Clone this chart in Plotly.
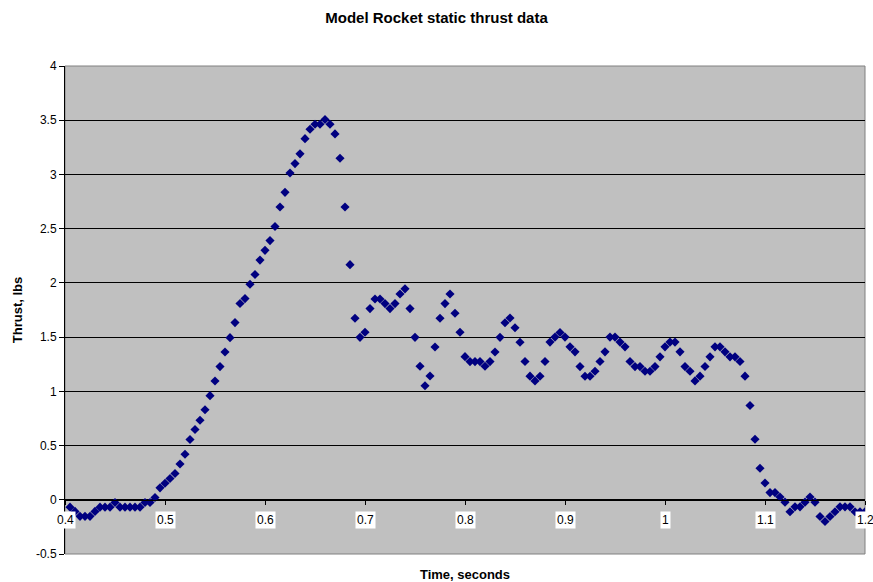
import plotly.graph_objects as go

time_s = [
    0.405, 0.410, 0.415, 0.420, 0.425, 0.430, 0.435, 0.440, 0.445, 0.450,
    0.455, 0.460, 0.465, 0.470, 0.475, 0.480, 0.485, 0.490, 0.495, 0.500,
    0.505, 0.510, 0.515, 0.520, 0.525, 0.530, 0.535, 0.540, 0.545, 0.550,
    0.555, 0.560, 0.565, 0.570, 0.575, 0.580, 0.585, 0.590, 0.595, 0.600,
    0.605, 0.610, 0.615, 0.620, 0.625, 0.630, 0.635, 0.640, 0.645, 0.650,
    0.655, 0.660, 0.665, 0.670, 0.675, 0.680, 0.685, 0.690, 0.695, 0.700,
    0.705, 0.710, 0.715, 0.720, 0.725, 0.730, 0.735, 0.740, 0.745, 0.750,
    0.755, 0.760, 0.765, 0.770, 0.775, 0.780, 0.785, 0.790, 0.795, 0.800,
    0.805, 0.810, 0.815, 0.820, 0.825, 0.830, 0.835, 0.840, 0.845, 0.850,
    0.855, 0.860, 0.865, 0.870, 0.875, 0.880, 0.885, 0.890, 0.895, 0.900,
    0.905, 0.910, 0.915, 0.920, 0.925, 0.930, 0.935, 0.940, 0.945, 0.950,
    0.955, 0.960, 0.965, 0.970, 0.975, 0.980, 0.985, 0.990, 0.995, 1.000,
    1.005, 1.010, 1.015, 1.020, 1.025, 1.030, 1.035, 1.040, 1.045, 1.050,
    1.055, 1.060, 1.065, 1.070, 1.075, 1.080, 1.085, 1.090, 1.095, 1.100,
    1.105, 1.110, 1.115, 1.120, 1.125, 1.130, 1.135, 1.140, 1.145, 1.150,
    1.155, 1.160, 1.165, 1.170, 1.175, 1.180, 1.185, 1.190, 1.195, 1.200,
]

thrust_lbs = [
    -0.068, -0.107, -0.153, -0.153, -0.153, -0.107, -0.068, -0.068, -0.068, -0.025,
    -0.068, -0.068, -0.068, -0.068, -0.068, -0.025, -0.025, 0.021, 0.110, 0.153,
    0.196, 0.242, 0.330, 0.420, 0.556, 0.648, 0.734, 0.830, 0.960, 1.095,
    1.228, 1.363, 1.495, 1.634, 1.810, 1.855, 1.988, 2.077, 2.210, 2.300,
    2.390, 2.520, 2.700, 2.835, 3.014, 3.100, 3.190, 3.330, 3.417, 3.463,
    3.463, 3.506, 3.463, 3.374, 3.149, 2.700, 2.168, 1.674, 1.498, 1.545,
    1.763, 1.852, 1.852, 1.809, 1.763, 1.809, 1.898, 1.945, 1.763, 1.498,
    1.231, 1.052, 1.142, 1.409, 1.674, 1.809, 1.898, 1.720, 1.545, 1.320,
    1.274, 1.274, 1.274, 1.231, 1.274, 1.363, 1.498, 1.632, 1.676, 1.587,
    1.453, 1.275, 1.140, 1.096, 1.139, 1.275, 1.454, 1.500, 1.543, 1.500,
    1.410, 1.364, 1.228, 1.139, 1.139, 1.185, 1.275, 1.364, 1.500, 1.500,
    1.454, 1.410, 1.275, 1.228, 1.228, 1.185, 1.185, 1.228, 1.318, 1.410,
    1.454, 1.454, 1.364, 1.228, 1.185, 1.096, 1.140, 1.229, 1.318, 1.410,
    1.410, 1.364, 1.318, 1.318, 1.275, 1.140, 0.869, 0.558, 0.291, 0.155,
    0.066, 0.066, 0.025, -0.022, -0.111, -0.065, -0.065, -0.022, 0.025, -0.022,
    -0.154, -0.200, -0.154, -0.111, -0.065, -0.065, -0.065, -0.111, -0.111, -0.111,
]

x_ticks = [0.4, 0.5, 0.6, 0.7, 0.8, 0.9, 1.0, 1.1, 1.2]
x_tick_labels = ["0.4", "0.5", "0.6", "0.7", "0.8", "0.9", "1", "1.1", "1.2"]
y_ticks = [-0.5, 0, 0.5, 1, 1.5, 2, 2.5, 3, 3.5, 4]
y_tick_labels = ["-0.5", "0", "0.5", "1", "1.5", "2", "2.5", "3", "3.5", "4"]

FONT = "Liberation Sans, Arial, sans-serif"
Y_MIN, Y_MAX = -0.5, 4.0

fig = go.Figure()
fig.add_trace(go.Scatter(
    x=time_s, y=thrust_lbs, mode="markers",
    marker=dict(symbol="diamond", size=7, color="#000080", line=dict(width=0)),
    name="Thrust", showlegend=False,
))

annotations = []
for tv, tl in zip(x_ticks, x_tick_labels):
    annotations.append(dict(
        x=tv, y=0, xref="x", yref="y", text=tl, showarrow=False,
        yanchor="top", xanchor="center", yshift=-11,
        font=dict(family=FONT, size=12, color="black"),
        bgcolor="white", borderpad=1,
    ))

fig.update_layout(
    width=873, height=582,
    margin=dict(l=65, r=8, t=66, b=28),
    paper_bgcolor="white", plot_bgcolor="#C0C0C0",
    font=dict(family=FONT, size=12, color="black"),
    title=dict(text="<b>Model Rocket static thrust data</b>", x=0.5, xanchor="center",
               y=0.978, yanchor="top", font=dict(family=FONT, size=15, color="black")),
    xaxis=dict(
        range=[0.4, 1.2], tickvals=x_ticks, ticktext=x_tick_labels,
        showticklabels=False, showgrid=False, zeroline=False,
        showline=True, linecolor="black", linewidth=1,
        ticks="outside", ticklen=4, tickcolor="black",
        anchor="free", position=(0 - Y_MIN) / (Y_MAX - Y_MIN),
        automargin=False,
        title=dict(text="<b>Time, seconds</b>", font=dict(family=FONT, size=13), standoff=67),
    ),
    yaxis=dict(
        range=[Y_MIN, Y_MAX], tickvals=y_ticks, ticktext=y_tick_labels,
        showgrid=True, gridcolor="black", gridwidth=1, zeroline=False,
        showline=True, linecolor="black", linewidth=1,
        ticks="outside", ticklen=5, tickcolor="black",
        tickfont=dict(family=FONT, size=12),
        automargin=False,
        title=dict(text="<b>Thrust, lbs</b>", font=dict(family=FONT, size=13), standoff=10),
    ),
    annotations=annotations,
    shapes=[dict(type="rect", xref="paper", yref="paper", x0=0, x1=1, y0=0, y1=1,
                 line=dict(color="#808080", width=1), layer="below")],
)

fig.write_html("out.html")
